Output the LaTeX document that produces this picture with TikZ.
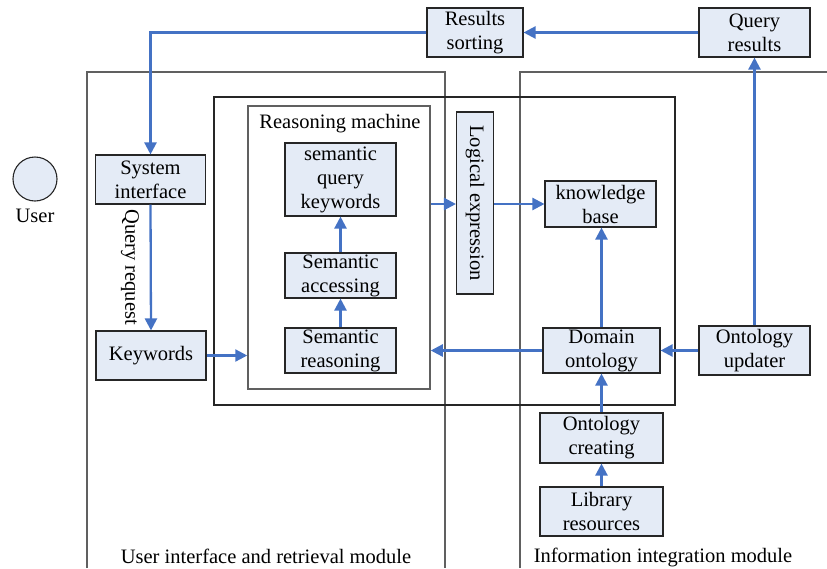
\documentclass[tikz,border=0pt]{standalone}
\usepackage{fontspec}
\setmainfont{Liberation Serif}
\usetikzlibrary{arrows.meta,calc}
\definecolor{linkblue}{HTML}{4472C4}
\definecolor{boxfill}{HTML}{E4EBF6}
\definecolor{framegray}{HTML}{606060}
\begin{document}
\begin{tikzpicture}[x=1pt,y=-1pt,
  font=\fontsize{20.5}{24}\selectfont,
  box/.style={draw=black!85, fill=boxfill, line width=1.1pt, align=center, inner sep=0pt},
  frame/.style={draw=black!85, line width=1.1pt, inner sep=0pt},
  modline/.style={draw=framegray, line width=1.5pt},
  conn/.style={draw=linkblue, line width=2.3pt, -{Triangle[length=12pt,width=12pt]}}]
\useasboundingbox (0,0) rectangle (827,568);
% module frames
\draw[modline] (87,568) -- (87,72) -- (445,72) -- (445,568);
\draw[modline] (520,568) -- (520,72) -- (827,72);
% big box and reasoning machine
\node[frame, minimum width=461pt, minimum height=308pt] (big) at (444.5,251) {};
\node[frame, draw=framegray, line width=1.5pt, minimum width=182pt, minimum height=283pt] (rm) at (339,247.5) {};
\node (rmlabel) at (340,124) {Reasoning machine};
% user
\node[draw=black!85, fill=boxfill, line width=1.1pt, circle, minimum size=44pt] (user) at (35,179) {};
\node (userlabel) at (35,216) {User};
% boxes
\node[box, minimum width=96pt, minimum height=49pt] (rs) at (475,32.5) {Results\\sorting};
\node[box, minimum width=111pt, minimum height=49pt] (qr) at (754.5,32.5) {Query\\results};
\node[box, minimum width=110pt, minimum height=49pt] (si) at (150.5,179.5) {System\\interface};
\node[box, minimum width=110pt, minimum height=49pt] (kw) at (151,355.5) {Keywords};
\node[box, minimum width=111pt, minimum height=73pt] (sqk) at (340.5,179.5) {semantic\\query\\keywords};
\node[box, minimum width=111pt, minimum height=45pt] (sa) at (340.5,275.5) {Semantic\\accessing};
\node[box, minimum width=111pt, minimum height=45pt] (sr) at (340.5,350.5) {Semantic\\reasoning};
\node[box, minimum width=182pt, minimum height=37pt, rotate=-90] (lx) at (475,203) {Logical expression};
\node[box, minimum width=111pt, minimum height=46pt] (kb) at (600.5,204) {knowledge\\base};
\node[box, minimum width=117pt, minimum height=45pt] (do) at (601.5,350.5) {Domain\\ontology};
\node[box, minimum width=111pt, minimum height=49pt] (ou) at (754.5,350.5) {Ontology\\updater};
\node[box, minimum width=123pt, minimum height=50pt] (oc) at (601.5,438) {Ontology\\creating};
\node[box, minimum width=123pt, minimum height=49pt] (lr) at (601.5,511.5) {Library\\resources};
% labels
\node[rotate=-90] (qreq) at (130,267) {Query request};
\node (uilabel) at (266,556) {User interface and retrieval module};
\node (iilabel) at (663,557) {Information integration module};
% connectors
\draw[conn] (qr.west) -- (rs.east);
\draw[conn] (rs.west) -| (si.north);
\draw[conn] (si.south) -- (kw.north);
\draw[conn] (kw.east) -- (kw.east -| rm.west);
\draw[conn] (sr.north) -- (sa.south);
\draw[conn] (sa.north) -- (sqk.south);
\draw[conn] (rm.east |- kb.west) -- (lx.south |- kb.west);
\draw[conn] (lx.north |- kb.west) -- (kb.west);
\draw[conn] (do.north) -- (do.north |- kb.south);
\draw[conn] (do.west) -- (do.west -| rm.east);
\draw[conn] (ou.west) -- (do.east);
\draw[conn] (ou.north) -- (qr.south);
\draw[conn] (oc.north) -- (do.south);
\draw[conn] (lr.north) -- (oc.south);
\end{tikzpicture}
\end{document}
